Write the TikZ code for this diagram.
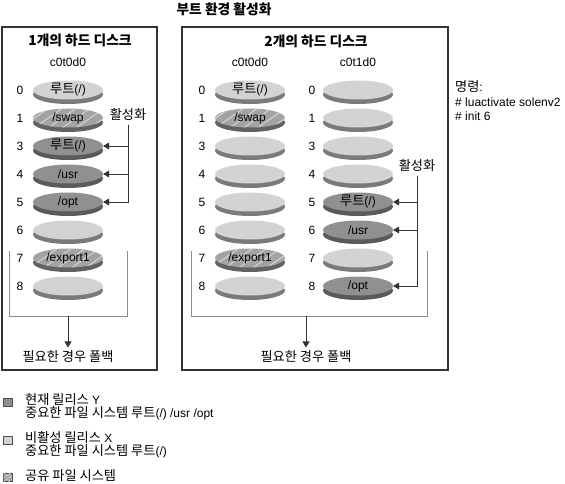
\documentclass[tikz,border=0pt]{standalone}
\usepackage{fontspec}
\setmainfont{Liberation Sans}
\newfontfamily\kr{Noto Sans CJK KR}[Scale=1.1]
\newcommand\ko[1]{{\kr #1}}
\usetikzlibrary{arrows.meta,shapes.geometric,shadows,patterns.meta}
\definecolor{facelight}{HTML}{D3D3D3}
\definecolor{rimlight}{HTML}{7A7A7A}
\definecolor{facedark}{HTML}{909090}
\definecolor{rimdark}{HTML}{5A5A5A}
\definecolor{facehatch}{HTML}{A3A3A3}
\definecolor{rimhatch}{HTML}{626262}
\definecolor{hatchline}{HTML}{DADADA}
\tikzset{
  txt/.style={font=\fontsize{12}{14}\selectfont},
  kotxt/.style={font=\kr\fontsize{12}{14}\selectfont},
  heading/.style={font=\kr\bfseries\fontsize{12.5}{15}\selectfont},
  num/.style={txt, inner sep=0pt},
  legtxt/.style={txt, anchor=west, inner sep=0pt, text height=8.5pt, text depth=2pt},
  disk/.style={txt, ellipse, inner sep=0pt, minimum width=70pt, minimum height=19pt},
  lightdisk/.style={disk, fill=facelight,
    drop shadow={shadow xshift=0pt, shadow yshift=-4.5pt, fill=rimlight, opacity=1}},
  darkdisk/.style={disk, fill=facedark,
    drop shadow={shadow xshift=0pt, shadow yshift=-4.5pt, fill=rimdark, opacity=1}},
  hatchdisk/.style={disk, fill=facehatch,
    postaction={pattern={Lines[angle=35,distance=8pt,line width=.9pt]}, pattern color=hatchline},
    drop shadow={shadow xshift=0pt, shadow yshift=-4.5pt, fill=rimhatch, opacity=1}},
  panel/.style={draw=black!80, line width=1.4pt},
  bracket/.style={draw=black!45, line width=.8pt},
  act/.style={draw=black!80, line width=.8pt, -{Triangle[length=6pt,width=7pt]}},
  legsq/.style={draw=black!70, line width=.5pt, minimum size=8.5pt, inner sep=0pt},
}
\begin{document}
\begin{tikzpicture}[x=1pt,y=-1pt]
\useasboundingbox (0,0) rectangle (565,484);

\node[heading] (title) at (224,9) {부트 환경 활성화};

\draw[panel] (2,27) rectangle (157,370);
\draw[panel] (182,27) rectangle (448,370);

\node[heading] (headA) at (80,40) {1개의 하드 디스크};
\node[heading] (headB) at (316,41) {2개의 하드 디스크};
\node[txt] (diskA) at (68,62) {c0t0d0};
\node[txt] (diskB) at (250,62) {c0t0d0};
\node[txt] (diskC) at (358,62) {c0t1d0};

\foreach \n/\sty/\lab [count=\i from 0] in {0/lightdisk/{\ko{루트}(/)}, 1/hatchdisk/{/swap}, 3/darkdisk/{\ko{루트}(/)}, 4/darkdisk/{/usr}, 5/darkdisk/{/opt}, 6/lightdisk/{}, 7/hatchdisk/{/export1}, 8/lightdisk/{}} {
  \node[num] (na\n) at (20,{90+28*\i}) {\n};
  \node[\sty] (a\n) at (68,{90+28*\i}) {\lab};
}
\foreach \n/\sty/\lab [count=\i from 0] in {0/lightdisk/{\ko{루트}(/)}, 1/hatchdisk/{/swap}, 3/lightdisk/{}, 4/lightdisk/{}, 5/lightdisk/{}, 6/lightdisk/{}, 7/hatchdisk/{/export1}, 8/lightdisk/{}} {
  \node[num] (nb\n) at (202,{90+28*\i}) {\n};
  \node[\sty] (b\n) at (250,{90+28*\i}) {\lab};
}
\foreach \n/\sty/\lab [count=\i from 0] in {0/lightdisk/{}, 1/lightdisk/{}, 3/lightdisk/{}, 4/lightdisk/{}, 5/darkdisk/{\ko{루트}(/)}, 6/darkdisk/{/usr}, 7/lightdisk/{}, 8/darkdisk/{/opt}} {
  \node[num] (nc\n) at (312,{90+28*\i}) {\n};
  \node[\sty] (c\n) at (358,{90+28*\i}) {\lab};
}

\node[kotxt] (actA) at (128,115) {활성화};
\draw[act] (actA.south) |- (a3.east);
\draw[act] (actA.south) |- (a4.east);
\draw[act] (actA.south) |- (a5.east);

\node[kotxt] (actB) at (417,166) {활성화};
\draw[act] (actB.south) |- (c5.east);
\draw[act] (actB.south) |- (c6.east);
\draw[act] (actB.south) |- (c8.east);

\draw[bracket] (9,251) |- (127,316) -- (127,251);
\draw[bracket] (191,251) |- (427,316) -- (427,251);
\coordinate (fbA) at (68,316);
\coordinate (fbB) at (306,316);
\node[kotxt] (fallA) at (68,357) {필요한 경우 폴백};
\node[kotxt] (fallB) at (306,357) {필요한 경우 폴백};
\draw[act] (fbA) -- (fallA.north);
\draw[act] (fbB) -- (fallB.north);

\node[txt, anchor=west, align=left, inner sep=0pt, font=\fontsize{12}{14.5}\selectfont] (cmd) at (455,101)
  {\ko{명령}:\\\# luactivate solenv2\\\# init 6};

\node[legsq, fill=facedark] (keyY) at (7.5,402) {};
\node[legtxt] (legY) at (25,401) {\ko{현재 릴리스} Y};
\node[legtxt] (legYb) at (25,414) {\ko{중요한 파일 시스템 루트}(/) /usr /opt};
\node[legsq, fill=facelight] (keyX) at (7.5,440) {};
\node[legtxt] (legX) at (25,439) {\ko{비활성 릴리스} X};
\node[legtxt] (legXb) at (25,452) {\ko{중요한 파일 시스템 루트}(/)};
\node[legsq, fill=facehatch, postaction={pattern={Lines[angle=35,distance=3pt,line width=.6pt]}, pattern color=hatchline}] (keyS) at (7.5,477) {};
\node[legtxt, font=\kr\fontsize{12}{14}\selectfont] (legS) at (25,477) {공유 파일 시스템};
\end{tikzpicture}
\end{document}
